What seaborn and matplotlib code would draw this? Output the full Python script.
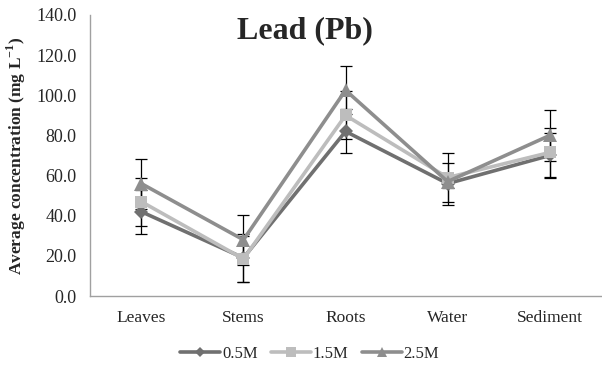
import matplotlib
matplotlib.use("Agg")
import matplotlib.pyplot as plt
import seaborn as sns
import pandas as pd
import numpy as np

categories = ["Leaves", "Stems", "Roots", "Water", "Sediment"]
series = ["0.5M", "1.5M", "2.5M"]
vals_05 = [42.0, 19.0, 82.0, 56.0, 70.0]
vals_15 = [47.0, 18.5, 90.0, 59.0, 71.5]
vals_25 = [56.0, 28.0, 102.5, 57.0, 80.0]
err_05 = [11.0, 12.0, 11.0, 10.5, 11.0]
err_15 = [12.0, 11.5, 12.0, 12.0, 12.0]
err_25 = [12.5, 12.5, 12.0, 3.0, 12.5]
yticks = [0, 20, 40, 60, 80, 100, 120, 140]

sns.set_style("white")
plt.rcParams["font.family"] = ["Liberation Serif", "DejaVu Serif"]
plt.rcParams["mathtext.fontset"] = "custom"
plt.rcParams["mathtext.rm"] = "Liberation Serif:bold"
plt.rcParams["mathtext.bf"] = "Liberation Serif:bold"

values = {"0.5M": vals_05, "1.5M": vals_15, "2.5M": vals_25}
errors = {"0.5M": err_05, "1.5M": err_15, "2.5M": err_25}
rows = []
for s in series:
    for i, c in enumerate(categories):
        rows.append({"pos": i, "cat": c, "series": s, "value": values[s][i]})
df = pd.DataFrame(rows)

colors = {"0.5M": "#707070", "1.5M": "#BDBDBD", "2.5M": "#8E8E8E"}
markers = {"0.5M": "D", "1.5M": "s", "2.5M": "^"}
msizes = {"0.5M": 7, "1.5M": 9, "2.5M": 10}

fig = plt.figure(figsize=(6.02, 3.65), dpi=100)
ax = fig.add_axes([0.150, 0.189, 0.848, 0.770])

for s in series:
    x = np.arange(len(categories))
    ax.errorbar(x, values[s], yerr=errors[s], fmt="none", ecolor="black",
                elinewidth=0.9, capsize=4, capthick=0.9, zorder=1)

for s in series:
    sub = df[df["series"] == s]
    sns.lineplot(data=sub, x="pos", y="value", ax=ax, color=colors[s],
                 marker=markers[s], markersize=msizes[s], markeredgewidth=0,
                 linewidth=2.6, label=s, zorder=3)

ax.set_xlim(-0.5, len(categories) - 0.5)
ax.set_ylim(0, 140)
ax.set_yticks(yticks)
ax.set_yticklabels([f"{v:.1f}" for v in yticks], fontsize=13)
ax.set_xticks(range(len(categories)))
ax.set_xticklabels(categories, fontsize=12.5)
ax.set_xticks(np.arange(0.5, len(categories) - 0.5, 1.0), minor=True)
ax.tick_params(axis="x", which="major", length=0, pad=10)
ax.tick_params(axis="x", which="minor", length=4, color="#A0A0A0", direction="out")
ax.tick_params(axis="y", length=4, color="#A0A0A0", direction="out", pad=6)
ax.set_xlabel("")
ax.set_ylabel("Average concentration (mg L$^{\\mathrm{-1}}$)", fontsize=12.5,
              fontweight="bold", labelpad=6)

for sp in ["top", "right"]:
    ax.spines[sp].set_visible(False)
for sp in ["left", "bottom"]:
    ax.spines[sp].set_color("#A0A0A0")
    ax.spines[sp].set_linewidth(1.0)

fig.text(0.507, 0.915, "Lead (Pb)", ha="center", va="center",
         fontsize=23, fontweight="bold")

leg = ax.legend(loc="center", bbox_to_anchor=(0.43, -0.205), ncol=3, frameon=False,
                fontsize=12, handlelength=2.4, columnspacing=0.8,
                handletextpad=0.1, markerscale=0.75)

fig.savefig("out.png", dpi=100)
